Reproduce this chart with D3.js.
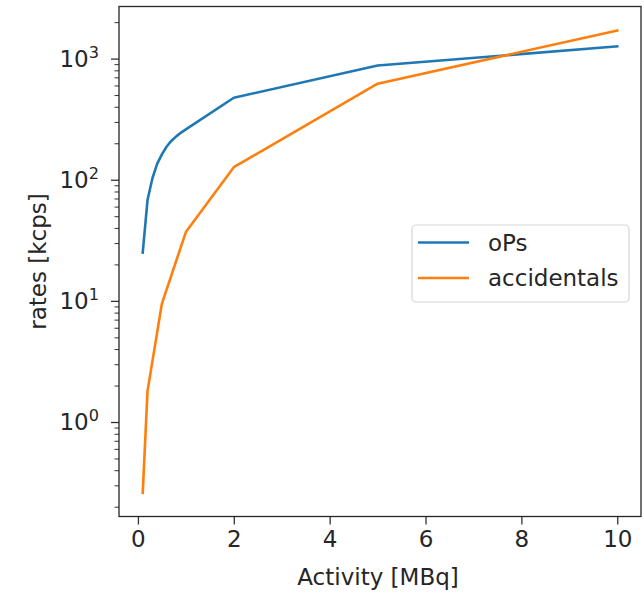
<!DOCTYPE html>
<html><head><meta charset="utf-8">
<script src="https://cdn.jsdelivr.net/npm/d3@7"></script>
<style>html,body{margin:0;padding:0;background:#fff;} text{font-family:"DejaVu Sans",sans-serif;}</style>
</head><body>
<svg id="chart" width="644" height="593"></svg>
<script>
const activityOPs = [0.1, 0.2, 0.3, 0.4, 0.5, 0.6, 0.7, 0.8, 0.9, 1, 2, 5, 10];
const oPs = [25, 68, 102, 135, 162, 188, 210, 228, 245, 260, 475, 877, 1260];
const activityAcc = [0.1, 0.2, 0.5, 1, 2, 5, 10];
const accidentals = [0.26, 1.8, 9.5, 37, 127, 620, 1706];
const seriesNames = ["oPs", "accidentals"];
const xTicks = [0, 2, 4, 6, 8, 10];
const yTickExps = [0, 1, 2, 3];

const svg = d3.select("#chart");
const L = 119, R = 641, T = 6.5, B = 516.5;
const FS = 23;
const x = d3.scaleLinear().domain([-0.395, 10.495]).range([L, R]);
const y = d3.scaleLog().domain([Math.pow(10, -0.78), Math.pow(10, 3.43)]).range([B, T]);

const colors = ["#1f77b4", "#ff7f0e"];
const series = [
  activityOPs.map((a, i) => [a, oPs[i]]),
  activityAcc.map((a, i) => [a, accidentals[i]])
];

// lines
const line = d3.line().x(d => x(d[0])).y(d => y(d[1]));
series.forEach((s, k) => {
  svg.append("path").datum(s).attr("d", line)
    .attr("fill", "none").attr("stroke", colors[k]).attr("stroke-width", 2.6)
    .attr("stroke-linejoin", "round").attr("stroke-linecap", "square");
});

// x axis
const xAxis = d3.axisBottom(x).tickValues(xTicks).tickSize(8).tickPadding(6).tickFormat(d3.format("d"));
const gx = svg.append("g").attr("transform", `translate(0,${B})`).call(xAxis);
gx.select(".domain").remove();
gx.selectAll(".tick line").attr("stroke", "#333").attr("stroke-width", 1.3);
gx.selectAll(".tick text").attr("font-size", FS).attr("fill", "#262626").attr("font-family", "DejaVu Sans").attr("dy", "0.72em");

// y axis major
const majors = yTickExps.map(e => Math.pow(10, e));
const yAxis = d3.axisLeft(y).tickValues(majors).tickSize(8).tickFormat("");
const gy = svg.append("g").attr("transform", `translate(${L},0)`).call(yAxis);
gy.select(".domain").remove();
gy.selectAll(".tick line").attr("stroke", "#333").attr("stroke-width", 1.3);
// minor
const minors = [];
for (let e = -1; e <= 3; e++) for (let m = 2; m <= 9; m++) {
  const v = m * Math.pow(10, e);
  if (v >= y.domain()[0] && v <= y.domain()[1]) minors.push(v);
}
const gym = svg.append("g").attr("transform", `translate(${L},0)`).call(d3.axisLeft(y).tickValues(minors).tickSize(4.5).tickFormat(""));
gym.select(".domain").remove();
gym.selectAll(".tick line").attr("stroke", "#333").attr("stroke-width", 1);

// y tick labels with superscripts
yTickExps.forEach(e => {
  const t = svg.append("text").attr("x", L - 20).attr("y", y(Math.pow(10, e)) + 8)
    .attr("text-anchor", "end").attr("font-size", FS).attr("fill", "#262626");
  t.append("tspan").text("10");
  t.append("tspan").attr("font-size", FS * 0.7).attr("dy", -9).text(String(e));
});

// frame
svg.append("rect").attr("x", L).attr("y", T).attr("width", R - L).attr("height", B - T)
  .attr("fill", "none").attr("stroke", "#262626").attr("stroke-width", 1.3);

// axis labels
svg.append("text").attr("x", (L + R) / 2 - 2).attr("y", 585).attr("text-anchor", "middle")
  .attr("font-size", FS).attr("fill", "#262626").text("Activity [MBq]");
svg.append("text").attr("transform", `translate(46,${(T + B) / 2}) rotate(-90)`).attr("text-anchor", "middle")
  .attr("font-size", FS).attr("fill", "#262626").text("rates [kcps]");

// legend
const lg = svg.append("g");
lg.append("rect").attr("x", 412).attr("y", 225).attr("width", 217).attr("height", 77).attr("rx", 4)
  .attr("fill", "#fff").attr("fill-opacity", 0.8).attr("stroke", "#d6d6d6").attr("stroke-width", 1.2);
seriesNames.forEach((n, k) => {
  const yy = 242.5 + k * 35.5;
  lg.append("line").attr("x1", 418).attr("x2", 469).attr("y1", yy).attr("y2", yy)
    .attr("stroke", colors[k]).attr("stroke-width", 2.6);
  lg.append("text").attr("x", 488).attr("y", yy + 8).attr("font-size", FS).attr("fill", "#262626").text(n);
});
</script>
</body></html>
